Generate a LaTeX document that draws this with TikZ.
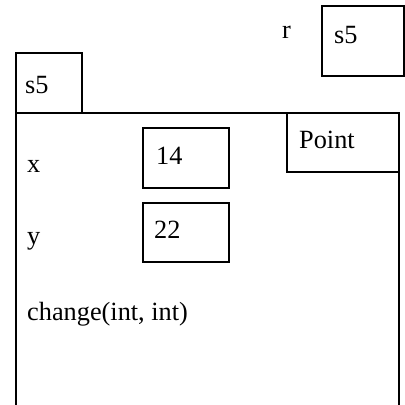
\documentclass[tikz,border=0pt]{standalone}
\usepackage{fontspec}
\setmainfont{Liberation Serif}
\begin{document}
\begin{tikzpicture}[x=1pt,y=1pt,
  box/.style={draw,line width=2pt,inner sep=0pt},
  txt/.style={inner sep=0pt,anchor=base west,font=\fontsize{26.3}{30}\selectfont}]
\useasboundingbox (0,0) rectangle (405,-405);
% outer object frame (open at the bottom)
\coordinate (fbl) at (16,-406);
\coordinate (ftl) at (16,-113);
\coordinate (ftr) at (399,-113);
\coordinate (fbr) at (399,-406);
\draw[line width=2pt] (fbl) -- (ftl) -- (ftr) -- (fbr);
% boxes
\node[box,minimum width=82pt,minimum height=70pt] (rbox) at (363,-41) {};
\node[box,minimum width=66pt,minimum height=60pt] (sbox) at (49,-83) {};
\node[box,minimum width=112pt,minimum height=59pt] (pbox) at (343,-142.5) {};
\node[box,minimum width=86pt,minimum height=60pt] (xbox) at (186,-158) {};
\node[box,minimum width=86pt,minimum height=59pt] (ybox) at (186,-232.5) {};
% texts
\node[txt] (rlab) at (282,-38) {r};
\node[txt] (rval) at (334,-43) {s5};
\node[txt] (sval) at (25,-93) {s5};
\node[txt] (ptxt) at (299,-148) {Point};
\node[txt] (xlab) at (27,-172) {x};
\node[txt] (xval) at (156,-164) {14};
\node[txt] (ylab) at (27,-244) {y};
\node[txt] (yval) at (154,-238) {22};
\node[txt] (meth) at (27,-320) {change(int, int)};
\end{tikzpicture}
\end{document}
